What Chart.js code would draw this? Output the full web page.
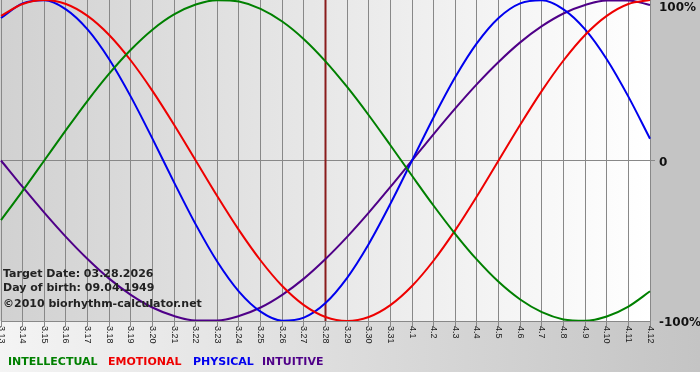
<!DOCTYPE html>
<html>
<head>
<meta charset="utf-8">
<script src="https://cdn.jsdelivr.net/npm/chart.js@4/dist/chart.umd.min.js"></script>
<style>
  html, body { margin: 0; padding: 0; background: #ffffff; }
  canvas { display: block; }
</style>
</head>
<body>
<canvas id="c" width="700" height="380"></canvas>
<script>
// ---- Data ----
const days = ['3.13','3.14','3.15','3.16','3.17','3.18','3.19','3.20','3.21','3.22','3.23','3.24','3.25','3.26','3.27','3.28','3.29','3.30','3.31','4.1','4.2','4.3','4.4','4.5','4.6','4.7','4.8','4.9','4.10','4.11','4.12'];
const intellectual = [-37.2,-18.9,0,18.9,37.2,54.1,69.0,81.5,91.0,97.2,99.9,99.0,94.5,86.6,75.6,61.8,45.8,28.2,9.5,-9.5,-28.2,-45.8,-61.8,-75.6,-86.6,-94.5,-99.0,-99.9,-97.2,-91.0,-81.5];
const emotional = [90.1,97.5,100,97.5,90.1,78.2,62.3,43.4,22.3,0,-22.3,-43.4,-62.3,-78.2,-90.1,-97.5,-100,-97.5,-90.1,-78.2,-62.3,-43.4,-22.3,0,22.3,43.4,62.3,78.2,90.1,97.5,100];
const physical = [88.8,97.9,99.8,94.2,81.7,63.1,39.8,13.6,-13.6,-39.8,-63.1,-81.7,-94.2,-99.8,-97.9,-88.8,-73.1,-52.0,-27.0,0,27.0,52.0,73.1,88.8,97.9,99.8,94.2,81.7,63.1,39.8,13.6];
const intuitive = [0,-16.5,-32.5,-47.6,-61.4,-73.6,-83.7,-91.6,-96.9,-99.7,-99.7,-96.9,-91.6,-83.7,-73.6,-61.4,-47.6,-32.5,-16.5,0,16.5,32.5,47.6,61.4,73.6,83.7,91.6,96.9,99.7,99.7,96.9];
const yTicks = [100, 0, -100];
const yTickLabels = ['100%', '0', '-100%'];
const targetDay = '3.28';
const infoLines = ['Target Date: 03.28.2026', 'Day of birth: 09.04.1949', '\u00A92010 biorhythm-calculator.net'];
const legendNames = ['INTELLECTUAL', 'EMOTIONAL', 'PHYSICAL', 'INTUITIVE'];
const seriesColors = ['#008000', '#ee0000', '#0000ee', '#4f0088'];

const BOLD = 'bold 11px "DejaVu Sans", Verdana, sans-serif';

const decor = {
  id: 'decor',
  beforeDraw(chart) {
    const ctx = chart.ctx, a = chart.chartArea;
    ctx.save();
    ctx.fillStyle = '#ffffff';
    ctx.fillRect(0, 0, chart.width, chart.height);
    let g = ctx.createLinearGradient(a.left, 0, a.right, 0);
    g.addColorStop(0, '#d1d1d1');
    g.addColorStop(1, '#ffffff');
    ctx.fillStyle = g;
    ctx.fillRect(a.left - 1, a.top, a.right - a.left + 1, a.bottom - a.top);
    ctx.fillStyle = '#c4c4c4';
    ctx.fillRect(a.right, 0, chart.width - a.right, a.bottom);
    g = ctx.createLinearGradient(0, 0, chart.width, 0);
    g.addColorStop(0, '#f4f4f4');
    g.addColorStop(1, '#c4c4c4');
    ctx.fillStyle = g;
    ctx.fillRect(0, a.bottom, chart.width, 372 - a.bottom);
    ctx.restore();
  },
  beforeDatasetsDraw(chart) {
    const ctx = chart.ctx, a = chart.chartArea, xs = chart.scales.x;
    const x = xs.getPixelForValue(days.indexOf(targetDay));
    ctx.save();
    ctx.strokeStyle = '#8a1c1c';
    ctx.lineWidth = 2;
    ctx.beginPath();
    ctx.moveTo(x, a.top);
    ctx.lineTo(x, a.bottom);
    ctx.stroke();
    ctx.restore();
  },
  afterDraw(chart) {
    const ctx = chart.ctx, a = chart.chartArea, xs = chart.scales.x, ys = chart.scales.y;
    ctx.save();
    ctx.font = '9px "Liberation Sans", Arial, sans-serif';
    ctx.fillStyle = '#1a1a1a';
    ctx.textAlign = 'left';
    ctx.textBaseline = 'middle';
    days.forEach((d, i) => {
      const x = xs.getPixelForValue(i);
      ctx.save();
      ctx.translate(x, a.bottom + 5);
      ctx.rotate(Math.PI / 2);
      ctx.fillText(d, 0, 0);
      ctx.restore();
    });
    ctx.font = 'bold 12px "DejaVu Sans", Verdana, sans-serif';
    ctx.fillStyle = '#111111';
    ctx.textBaseline = 'alphabetic';
    yTicks.forEach((v, i) => {
      const y = Math.max(11, ys.getPixelForValue(v) + 5);
      ctx.fillText(yTickLabels[i], a.right + 9, y);
    });
    ctx.font = BOLD;
    ctx.fillStyle = '#222222';
    ctx.fillText(infoLines[0], 3, 277);
    ctx.fillText(infoLines[1], 3, 291);
    ctx.fillText(infoLines[2], 3, 307);
    const lx = [8, 108, 193, 262];
    legendNames.forEach((n, i) => {
      ctx.fillStyle = seriesColors[i];
      ctx.fillText(n, lx[i], 365);
    });
    ctx.restore();
  }
};

const mk = (label, data, color) => ({
  label, data, borderColor: color, backgroundColor: color,
  borderWidth: 2, pointRadius: 0, cubicInterpolationMode: 'monotone', fill: false
});

new Chart(document.getElementById('c'), {
  type: 'line',
  data: {
    labels: days,
    datasets: [
      mk(legendNames[0], intellectual, seriesColors[0]),
      mk(legendNames[1], emotional, seriesColors[1]),
      mk(legendNames[2], physical, seriesColors[2]),
      mk(legendNames[3], intuitive, seriesColors[3])
    ]
  },
  options: {
    responsive: false,
    animation: false,
    devicePixelRatio: 1,
    layout: { padding: { left: 1, top: 0, right: 0, bottom: 0 } },
    plugins: { legend: { display: false }, tooltip: { enabled: false }, title: { display: false } },
    scales: {
      x: {
        type: 'category',
        offset: false,
        ticks: { display: false },
        grid: { display: true, color: '#888888', lineWidth: 1, drawTicks: true, tickLength: 6 },
        border: { display: true, color: '#888888' },
        afterFit: s => { s.height = 59; }
      },
      y: {
        position: 'right',
        min: -100, max: 100,
        ticks: { display: false, stepSize: 100 },
        grid: {
          color: c => (c.tick && c.tick.value === 0) ? '#888888' : 'rgba(0,0,0,0)',
          drawTicks: true, tickLength: 5
        },
        border: { display: false },
        afterFit: s => { s.width = 50; }
      }
    }
  },
  plugins: [decor]
});
</script>
</body>
</html>
